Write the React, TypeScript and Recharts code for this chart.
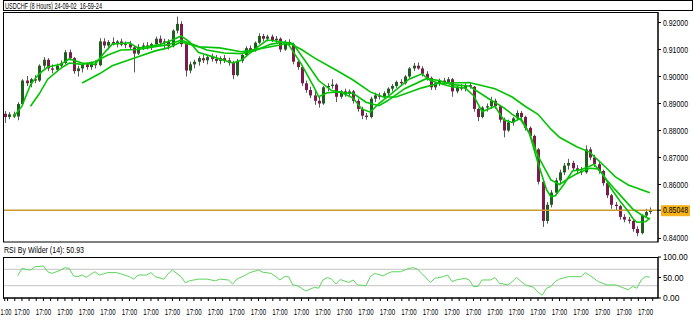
import React from "react";
import { ComposedChart, Bar, Line, XAxis, YAxis, ReferenceLine } from "recharts";

// USDCHF 8-hour candles, prices in pips (price x 10000)
const opens = [
  8862, 8850, 8860, 8852, 8898, 8985, 8975, 8990, 8985, 9040, 9062, 9030, 9025, 9040, 9050, 9090, 9068, 9020, 9030, 9045,
  9035, 9048, 9042, 9130, 9115, 9128, 9122, 9130, 9118, 9120, 9108, 9085, 9110, 9115, 9108, 9120, 9140, 9125, 9130, 9112,
  9170, 9195, 9120, 9022, 9045, 9055, 9068, 9060, 9072, 9065, 9058, 9068, 9060, 9050, 9005, 9058, 9080, 9105, 9098, 9125,
  9150, 9140, 9148, 9135, 9140, 9100, 9128, 9120, 9055, 9035, 8975, 8950, 8930, 8910, 8900, 8960, 8965, 8970, 8925, 8945,
  8935, 8945, 8910, 8880, 8855, 8850, 8918, 8930, 8925, 8938, 8955, 8965, 8980, 8975, 9000, 9030, 9040, 9030, 9010, 8995,
  8960, 8975, 8985, 8978, 8990, 8945, 8960, 8955, 8968, 8962, 8880, 8850, 8885, 8890, 8910, 8890, 8840, 8800, 8830, 8845,
  8865, 8850, 8810, 8780, 8730, 8610, 8465, 8525, 8570, 8615, 8645, 8670, 8680, 8660, 8650, 8645, 8730, 8700, 8675, 8650,
  8605, 8560, 8525, 8520, 8480, 8470, 8465, 8435, 8420, 8485, 8498,
];
const highs = [
  8872, 8868, 8870, 8905, 8990, 9002, 8995, 9005, 9045, 9072, 9068, 9045, 9048, 9060, 9098, 9100, 9072, 9040, 9050, 9052,
  9055, 9060, 9142, 9142, 9135, 9145, 9135, 9140, 9130, 9132, 9115, 9120, 9125, 9128, 9125, 9148, 9152, 9140, 9138, 9175,
  9222, 9205, 9125, 9055, 9062, 9075, 9080, 9078, 9085, 9080, 9075, 9080, 9070, 9058, 9065, 9085, 9112, 9115, 9130, 9160,
  9158, 9155, 9155, 9150, 9145, 9135, 9138, 9125, 9060, 9040, 8985, 8962, 8945, 8925, 8965, 8975, 8990, 8975, 8950, 8955,
  8952, 8950, 8918, 8888, 8865, 8925, 8940, 8940, 8945, 8960, 8972, 8985, 8990, 9005, 9035, 9050, 9052, 9038, 9020, 9000,
  8980, 8992, 8995, 8998, 8995, 8968, 8972, 8975, 8978, 8965, 8885, 8890, 8900, 8925, 8918, 8895, 8848, 8840, 8850, 8875,
  8872, 8855, 8815, 8785, 8735, 8615, 8535, 8580, 8625, 8655, 8680, 8695, 8688, 8672, 8665, 8745, 8738, 8710, 8685, 8655,
  8610, 8565, 8535, 8525, 8490, 8480, 8470, 8445, 8490, 8510, 8515,
];
const lows = [
  8828, 8842, 8846, 8838, 8890, 8965, 8960, 8975, 8980, 9030, 9020, 9012, 9018, 9030, 9045, 9060, 9010, 9000, 9015, 9025,
  9025, 9030, 9038, 9105, 9100, 9115, 9108, 9112, 9105, 9100, 9015, 9080, 9098, 9100, 9098, 9112, 9115, 9105, 9100, 9108,
  9160, 9110, 9000, 9012, 9030, 9040, 9050, 9045, 9055, 9048, 9045, 9050, 9040, 8990, 9000, 9050, 9072, 9090, 9092, 9120,
  9130, 9130, 9128, 9125, 9090, 9095, 9110, 9045, 9025, 8965, 8940, 8920, 8895, 8885, 8895, 8945, 8955, 8905, 8918, 8925,
  8928, 8900, 8870, 8842, 8840, 8845, 8905, 8915, 8920, 8930, 8945, 8958, 8965, 8970, 8995, 9020, 9025, 9000, 8985, 8950,
  8950, 8965, 8970, 8972, 8925, 8938, 8948, 8945, 8955, 8870, 8835, 8845, 8870, 8880, 8880, 8830, 8775, 8795, 8818, 8838,
  8840, 8800, 8770, 8720, 8600, 8443, 8455, 8515, 8560, 8605, 8635, 8655, 8650, 8640, 8635, 8640, 8690, 8665, 8640, 8595,
  8550, 8510, 8505, 8470, 8460, 8455, 8425, 8408, 8415, 8478, 8490,
];
const closes = [
  8850, 8860, 8852, 8898, 8985, 8975, 8990, 8985, 9040, 9062, 9030, 9025, 9040, 9050, 9090, 9068, 9020, 9030, 9045, 9035,
  9048, 9042, 9130, 9115, 9128, 9122, 9130, 9118, 9120, 9108, 9085, 9110, 9115, 9108, 9120, 9140, 9125, 9130, 9112, 9170,
  9195, 9120, 9022, 9045, 9055, 9068, 9060, 9072, 9065, 9058, 9068, 9060, 9050, 9005, 9058, 9080, 9105, 9098, 9125, 9150,
  9140, 9148, 9135, 9140, 9100, 9128, 9120, 9055, 9035, 8975, 8950, 8930, 8910, 8900, 8960, 8965, 8970, 8925, 8945, 8935,
  8945, 8910, 8880, 8855, 8850, 8918, 8930, 8925, 8938, 8955, 8965, 8980, 8975, 9000, 9030, 9040, 9030, 9010, 8995, 8960,
  8975, 8985, 8978, 8990, 8945, 8960, 8955, 8968, 8962, 8880, 8850, 8885, 8890, 8910, 8890, 8840, 8800, 8830, 8845, 8865,
  8850, 8810, 8780, 8730, 8610, 8465, 8525, 8570, 8615, 8645, 8670, 8680, 8660, 8650, 8645, 8730, 8700, 8675, 8650, 8605,
  8560, 8525, 8520, 8480, 8470, 8465, 8435, 8420, 8485, 8498, 8505,
];

// moving averages read at [candle index, pips]
const fastMa: [number, number][] = [
  [2, 8850], [4, 8890], [6, 8970], [8, 9010], [10, 9035], [13, 9045], [15, 9065], [18, 9050], [21, 9045], [23, 9085],
  [25, 9120], [29, 9125], [31, 9105], [36, 9118], [39, 9135], [41, 9150], [43, 9128], [45, 9090], [49, 9070], [53, 9050],
  [55, 9060], [58, 9100], [61, 9135], [64, 9130], [66, 9118], [69, 9045], [72, 8958], [73, 8925], [75, 8940], [78, 8943],
  [81, 8920], [83, 8880], [85, 8868], [87, 8900], [90, 8938], [94, 8990], [97, 9010], [99, 8985], [101, 8975], [104, 8962],
  [107, 8958], [109, 8930], [111, 8870], [114, 8890], [116, 8840], [118, 8830], [120, 8845], [122, 8790], [124, 8680],
  [126, 8580], [127, 8555], [128, 8558], [130, 8600], [132, 8650], [134, 8655], [136, 8668], [137, 8675], [139, 8640],
  [141, 8585], [143, 8540], [145, 8500], [146, 8475], [147, 8460], [149, 8462], [150, 8475],
];
const midMa: [number, number][] = [
  [6, 8890], [8, 8935], [10, 8990], [13, 9030], [15, 9050], [18, 9045], [21, 9055], [24, 9080], [27, 9098], [31, 9100],
  [35, 9110], [38, 9118], [41, 9135], [44, 9118], [47, 9098], [51, 9087], [55, 9085], [58, 9095], [62, 9120], [65, 9128],
  [67, 9122], [70, 9055], [73, 8985], [76, 8948], [79, 8940], [81, 8938], [84, 8905], [87, 8892], [89, 8910], [93, 8955],
  [98, 8992], [101, 8985], [104, 8970], [108, 8965], [113, 8913], [116, 8885], [118, 8860], [120, 8840], [122, 8790],
  [124, 8705], [127, 8617], [129, 8600], [131, 8622], [133, 8640], [136, 8660], [138, 8658], [140, 8617], [142, 8580],
  [144, 8545], [146, 8510], [148, 8488], [150, 8472],
];
const slowMa: [number, number][] = [
  [18, 8976], [22, 9010], [25, 9040], [30, 9068], [35, 9095], [38, 9106], [41, 9128], [45, 9110], [50, 9106], [55, 9092],
  [60, 9105], [64, 9117], [66, 9125], [69, 9100], [72, 9069], [77, 9024], [81, 8987], [85, 8943], [88, 8924], [91, 8924],
  [97, 8958], [101, 8975], [108, 8978], [114, 8955], [118, 8924], [121, 8890], [124, 8860], [127, 8805], [129, 8775],
  [133, 8740], [136, 8720], [139, 8675], [142, 8628], [145, 8598], [150, 8569],
];

// RSI (Wilder, 14) read at [candle index, value]
const rsiPoints: [number, number][] = [
  [3, 54], [4, 72], [5, 70], [6, 68], [7, 76], [9, 78], [10, 64], [11, 60], [13, 68], [14, 74], [15, 72], [16, 54],
  [17, 52], [18, 56], [19, 50], [20, 58], [21, 64], [22, 56], [24, 62], [26, 62], [27, 59], [29, 52], [30, 46], [31, 56],
  [33, 56], [34, 62], [35, 52], [37, 46], [38, 59], [39, 68], [41, 52], [42, 37], [43, 42], [45, 46], [47, 46], [49, 42],
  [50, 46], [52, 44], [53, 34], [54, 46], [56, 56], [57, 62], [59, 68], [60, 63], [62, 60], [64, 44], [65, 52], [66, 52],
  [67, 32], [68, 30], [69, 24], [70, 17], [72, 26], [73, 24], [74, 44], [75, 50], [76, 46], [77, 34], [78, 45], [80, 38],
  [81, 44], [82, 32], [84, 30], [85, 52], [86, 60], [88, 54], [89, 60], [90, 64], [92, 64], [93, 68], [94, 72], [95, 74],
  [96, 70], [97, 60], [99, 38], [100, 48], [102, 52], [103, 56], [104, 40], [105, 44], [107, 48], [108, 44], [109, 28],
  [110, 28], [111, 44], [113, 44], [114, 50], [115, 36], [117, 32], [118, 40], [119, 50], [121, 32], [123, 26], [124, 14],
  [125, 7], [126, 24], [127, 28], [128, 40], [129, 46], [131, 52], [134, 52], [135, 62], [137, 48], [138, 40], [140, 32],
  [142, 32], [143, 28], [145, 20], [146, 28], [147, 24], [148, 44], [149, 52], [150, 50.93],
];

const title = "USDCHF (8 Hours) 24-09-02_16-59-24";
const lastPrice = 0.85048;
const priceTicks = [0.84, 0.86, 0.87, 0.88, 0.89, 0.9, 0.91, 0.92];
const rsiTicks = [0, 50, 100];
const rsiLevels = [30, 70];
const xTickLabels = ["1:00", ...Array(30).fill("17:00")];

const FONT = "'Liberation Sans', Arial, sans-serif";
const PIP = 10000;
const X_DOMAIN: [number, number] = [-0.4, 151.9];

type Row = {
  i: number;
  o: number;
  h: number;
  l: number;
  c: number;
  range: [number, number];
  fast: number | null;
  mid: number | null;
  slow: number | null;
  rsi: number | null;
};

const data: Row[] = closes.map((c, i) => ({
  i,
  o: opens[i] / PIP,
  h: highs[i] / PIP,
  l: lows[i] / PIP,
  c: c / PIP,
  range: [lows[i] / PIP, highs[i] / PIP],
  fast: null,
  mid: null,
  slow: null,
  rsi: null,
}));
fastMa.forEach(([i, v]) => (data[i].fast = v / PIP));
midMa.forEach(([i, v]) => (data[i].mid = v / PIP));
slowMa.forEach(([i, v]) => (data[i].slow = v / PIP));
rsiPoints.forEach(([i, v]) => (data[i].rsi = v));

const majorIdx = xTickLabels.map((_, k) => (k === 0 ? 0 : 5 * k - 1));
const labelAt = new Map<number, string>(majorIdx.map((t, k) => [t, xTickLabels[k]]));
const minorIdx: number[] = [];
for (let t = 4 - 10 / 3; t <= 151.5; t += 5 / 3) {
  if (!majorIdx.some((m) => Math.abs(m - t) < 0.1)) minorIdx.push(t);
}
const xTicks = [...majorIdx, ...minorIdx].sort((a, b) => a - b);

function Candle(props: any) {
  let { x, y, width, height } = props;
  const { payload } = props;
  if (x == null || y == null || height == null) return <g />;
  if (height < 0) {
    y += height;
    height = -height;
  }
  const { o, h, l, c } = payload as Row;
  const k = h === l ? 0 : height / (h - l);
  const yo = y + (h - o) * k;
  const yc = y + (h - c) * k;
  const top = Math.min(yo, yc);
  const bh = Math.max(1, Math.abs(yc - yo));
  const cx = Math.round(x + width / 2) + 0.5;
  const up = c >= o;
  return (
    <g>
      <line x1={cx} x2={cx} y1={y} y2={y + Math.max(height, 1)} stroke="#5a5a5a" strokeWidth={1} />
      <rect x={cx - 1.5} y={top} width={3} height={bh} fill={up ? "#1f5e1f" : "#7d1c4c"} />
    </g>
  );
}

function PriceTick(props: any) {
  const { x, y, payload } = props;
  const v = payload.value as number;
  const isLast = Math.abs(v - lastPrice) < 1e-9;
  return (
    <g>
      {isLast && <rect x={x - 2} y={y - 5} width={29} height={11} fill="#f5b21a" />}
      <text x={x} y={y + 3} fontSize={8.5} fontFamily={FONT} fill="#000" textLength={25} lengthAdjust="spacingAndGlyphs">
        {v.toFixed(5)}
      </text>
    </g>
  );
}

function RsiTick(props: any) {
  const { x, y, payload } = props;
  const s = (payload.value as number).toFixed(2);
  return (
    <text x={x} y={y + 3} fontSize={8.5} fontFamily={FONT} fill="#000" textLength={s.length * 4.1} lengthAdjust="spacingAndGlyphs">
      {s}
    </text>
  );
}

// narrow labels squeezed with a real transform so their boxes stay small
function TimeTick(props: any) {
  const { x, payload } = props;
  const label = labelAt.get(payload.value);
  if (!label) return <g />;
  const first = label.length < 5;
  const tx = first ? 0.5 : x;
  return (
    <text
      transform={`translate(${tx},67.5) scale(${first ? 0.66 : 0.72},1)`}
      x={0}
      y={0}
      textAnchor={first ? "start" : "middle"}
      fontSize={8.5}
      fontFamily={FONT}
      fill="#000"
    >
      {label}
    </text>
  );
}

export default function App() {
  const lastRsi = rsiPoints[rsiPoints.length - 1][1];
  return (
    <div style={{ position: "absolute", left: 0, top: 0, width: 694, height: 333, background: "#fff", overflow: "hidden" }}>
      <div style={{ position: "absolute", left: 0, top: 0 }}>
        <ComposedChart width={694} height={243} data={data} margin={{ top: 12, right: 0, bottom: 1, left: 3 }}>
          <XAxis type="number" dataKey="i" domain={X_DOMAIN} allowDataOverflow hide />
          <YAxis
            orientation="right"
            width={36}
            domain={[0.8387, 0.9239]}
            allowDataOverflow
            ticks={[...priceTicks, lastPrice]}
            interval={0}
            tickSize={3}
            tick={<PriceTick />}
            axisLine={{ stroke: "#000" }}
            tickLine={{ stroke: "#000" }}
          />
          <ReferenceLine y={lastPrice} stroke="#c99a2e" strokeWidth={1.6} />
          <Bar dataKey="range" barSize={3} shape={<Candle />} isAnimationActive={false} />
          <Line dataKey="slow" stroke="#00c400" strokeWidth={1.6} dot={false} connectNulls isAnimationActive={false} />
          <Line dataKey="mid" stroke="#00c400" strokeWidth={1.6} dot={false} connectNulls isAnimationActive={false} />
          <Line dataKey="fast" stroke="#00c400" strokeWidth={1.6} dot={false} connectNulls isAnimationActive={false} />
        </ComposedChart>
      </div>
      <div style={{ position: "absolute", left: 0, top: 247 }}>
        <ComposedChart width={694} height={86} data={data} margin={{ top: 10, right: 0, bottom: 0, left: 3 }}>
          <XAxis
            type="number"
            dataKey="i"
            domain={X_DOMAIN}
            allowDataOverflow
            ticks={xTicks}
            interval={0}
            height={35}
            tickSize={3}
            tick={<TimeTick />}
            axisLine={{ stroke: "#000" }}
            tickLine={{ stroke: "#000" }}
          />
          <YAxis
            orientation="right"
            width={36}
            domain={[0, 100]}
            allowDataOverflow
            ticks={rsiTicks}
            interval={0}
            tickSize={3}
            tick={<RsiTick />}
            axisLine={{ stroke: "#000" }}
            tickLine={{ stroke: "#000" }}
          />
          {rsiLevels.map((lv) => (
            <ReferenceLine key={lv} y={lv} stroke="#c4c4c4" strokeWidth={1} />
          ))}
          <Line dataKey="rsi" stroke="#5cd65c" strokeWidth={1} dot={false} connectNulls isAnimationActive={false} />
        </ComposedChart>
      </div>
      <svg width={694} height={333} style={{ position: "absolute", left: 0, top: 0, pointerEvents: "none" }}>
        <rect x={3.5} y={0.5} width={689} height={10} fill="none" stroke="#000" />
        <text x={5} y={8.5} fontSize={8.5} fontFamily={FONT} fill="#000" textLength={97} lengthAdjust="spacingAndGlyphs">
          {title}
        </text>
        <rect x={3.5} y={12.5} width={654.5} height={229.5} fill="none" stroke="#000" />
        <text x={4} y={253} fontSize={8.5} fontFamily={FONT} fill="#000" textLength={80} lengthAdjust="spacingAndGlyphs">
          {`RSI By Wilder (14): ${lastRsi.toFixed(2)}`}
        </text>
        <rect x={3.5} y={257.5} width={654.5} height={40.5} fill="none" stroke="#000" />
      </svg>
    </div>
  );
}
